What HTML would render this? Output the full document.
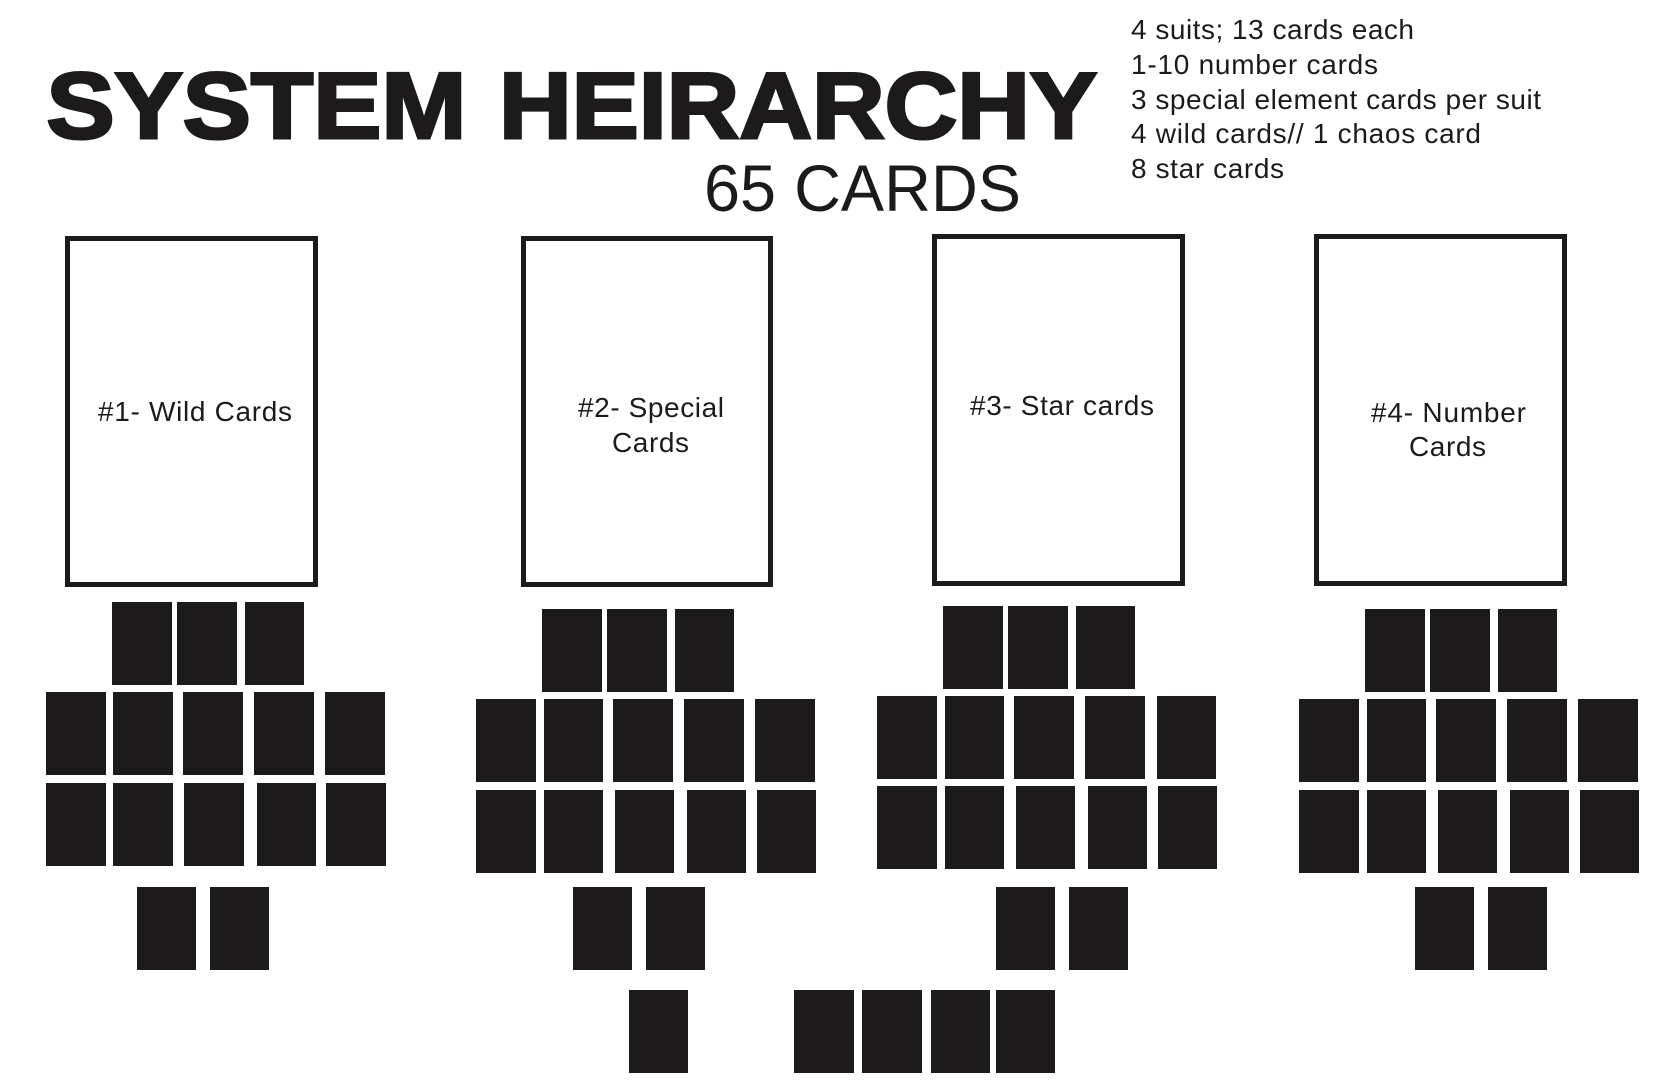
<!DOCTYPE html>
<html lang="en">
<head>
<meta charset="utf-8">
<title>System Heirarchy - 65 Cards</title>
<style>
  html, body { margin: 0; padding: 0; background: #ffffff; }
  svg { display: block; }
  text { font-family: "Liberation Sans", Arial, sans-serif; fill: #1c1a1b; }
  .card { fill: #1c1a1b; }
  .frame { fill: none; stroke: #1c1a1b; stroke-width: 5; }
  .body-text { font-size: 28px; }
  .label { font-size: 28px; }
  .title-word { font-size: 94px; font-weight: 700; stroke: #1c1a1b; stroke-width: 3; }
</style>
</head>
<body>
<svg width="1678" height="1088" viewBox="0 0 1678 1088" xmlns="http://www.w3.org/2000/svg">
  <rect x="0" y="0" width="1678" height="1088" fill="#ffffff"/>

  <g>
    <text class="title-word" x="46.5" y="138" textLength="420" lengthAdjust="spacingAndGlyphs">SYSTEM</text>
    <text class="title-word" x="499" y="138" textLength="598" lengthAdjust="spacingAndGlyphs">HEIRARCHY</text>
  </g>
  <text x="704" y="211" font-size="66" textLength="317" lengthAdjust="spacingAndGlyphs">65 CARDS</text>

  <g>
    <text class="body-text" x="1131" y="39" textLength="283" lengthAdjust="spacing">4 suits; 13 cards each</text>
    <text class="body-text" x="1131" y="74" textLength="247" lengthAdjust="spacing">1-10 number cards</text>
    <text class="body-text" x="1131" y="109" textLength="410" lengthAdjust="spacing">3 special element cards per suit</text>
    <text class="body-text" x="1131" y="143" textLength="350" lengthAdjust="spacing">4 wild cards// 1 chaos card</text>
    <text class="body-text" x="1131" y="178" textLength="153" lengthAdjust="spacing">8 star cards</text>
  </g>

  <g>
    <rect class="frame" x="67.5" y="238.5" width="248" height="346"/>
    <text class="label" x="98" y="421" textLength="194" lengthAdjust="spacing">#1- Wild Cards</text>
    <g>
      <rect class="card" x="112" y="602" width="60" height="83"/>
      <rect class="card" x="177" y="602" width="60" height="83"/>
      <rect class="card" x="245" y="602" width="59" height="83"/>
      <rect class="card" x="46" y="692" width="60" height="83"/>
      <rect class="card" x="113" y="692" width="60" height="83"/>
      <rect class="card" x="183" y="692" width="60" height="83"/>
      <rect class="card" x="254" y="692" width="60" height="83"/>
      <rect class="card" x="325" y="692" width="60" height="83"/>
      <rect class="card" x="46" y="783" width="60" height="83"/>
      <rect class="card" x="113" y="783" width="60" height="83"/>
      <rect class="card" x="184" y="783" width="60" height="83"/>
      <rect class="card" x="257" y="783" width="59" height="83"/>
      <rect class="card" x="326" y="783" width="60" height="83"/>
      <rect class="card" x="137" y="887" width="59" height="83"/>
      <rect class="card" x="210" y="887" width="59" height="83"/>
    </g>
  </g>

  <g>
    <rect class="frame" x="523.5" y="238.5" width="247" height="346"/>
    <text class="label" x="578" y="417" textLength="146" lengthAdjust="spacing">#2- Special</text>
    <text class="label" x="612" y="452" textLength="77" lengthAdjust="spacing">Cards</text>
    <g>
      <rect class="card" x="542" y="609" width="60" height="83"/>
      <rect class="card" x="607" y="609" width="60" height="83"/>
      <rect class="card" x="675" y="609" width="59" height="83"/>
      <rect class="card" x="476" y="699" width="60" height="83"/>
      <rect class="card" x="544" y="699" width="59" height="83"/>
      <rect class="card" x="613" y="699" width="60" height="83"/>
      <rect class="card" x="684" y="699" width="60" height="83"/>
      <rect class="card" x="755" y="699" width="60" height="83"/>
      <rect class="card" x="476" y="790" width="60" height="83"/>
      <rect class="card" x="544" y="790" width="59" height="83"/>
      <rect class="card" x="615" y="790" width="59" height="83"/>
      <rect class="card" x="687" y="790" width="59" height="83"/>
      <rect class="card" x="757" y="790" width="59" height="83"/>
      <rect class="card" x="573" y="887" width="59" height="83"/>
      <rect class="card" x="646" y="887" width="59" height="83"/>
    </g>
  </g>

  <g>
    <rect class="frame" x="934.5" y="236.5" width="248" height="347"/>
    <text class="label" x="970" y="415" textLength="184" lengthAdjust="spacing">#3- Star cards</text>
    <g>
      <rect class="card" x="943" y="606" width="60" height="83"/>
      <rect class="card" x="1008" y="606" width="60" height="83"/>
      <rect class="card" x="1076" y="606" width="59" height="83"/>
      <rect class="card" x="877" y="696" width="60" height="83"/>
      <rect class="card" x="945" y="696" width="59" height="83"/>
      <rect class="card" x="1014" y="696" width="60" height="83"/>
      <rect class="card" x="1085" y="696" width="60" height="83"/>
      <rect class="card" x="1157" y="696" width="59" height="83"/>
      <rect class="card" x="877" y="786" width="60" height="83"/>
      <rect class="card" x="945" y="786" width="59" height="83"/>
      <rect class="card" x="1016" y="786" width="59" height="83"/>
      <rect class="card" x="1088" y="786" width="59" height="83"/>
      <rect class="card" x="1158" y="786" width="59" height="83"/>
      <rect class="card" x="996" y="887" width="59" height="83"/>
      <rect class="card" x="1069" y="887" width="59" height="83"/>
    </g>
  </g>

  <g>
    <rect class="frame" x="1316.5" y="236.5" width="248" height="347"/>
    <text class="label" x="1371" y="422" textLength="155" lengthAdjust="spacing">#4- Number</text>
    <text class="label" x="1409" y="456" textLength="77" lengthAdjust="spacing">Cards</text>
    <g>
      <rect class="card" x="1365" y="609" width="60" height="83"/>
      <rect class="card" x="1430" y="609" width="60" height="83"/>
      <rect class="card" x="1498" y="609" width="59" height="83"/>
      <rect class="card" x="1299" y="699" width="60" height="83"/>
      <rect class="card" x="1367" y="699" width="59" height="83"/>
      <rect class="card" x="1436" y="699" width="60" height="83"/>
      <rect class="card" x="1507" y="699" width="60" height="83"/>
      <rect class="card" x="1578" y="699" width="60" height="83"/>
      <rect class="card" x="1299" y="790" width="60" height="83"/>
      <rect class="card" x="1367" y="790" width="59" height="83"/>
      <rect class="card" x="1438" y="790" width="59" height="83"/>
      <rect class="card" x="1510" y="790" width="59" height="83"/>
      <rect class="card" x="1580" y="790" width="59" height="83"/>
      <rect class="card" x="1415" y="887" width="59" height="83"/>
      <rect class="card" x="1488" y="887" width="59" height="83"/>
    </g>
  </g>

  <g>
    <rect class="card" x="629" y="990" width="59" height="83"/>
    <rect class="card" x="794" y="990" width="60" height="83"/>
    <rect class="card" x="862" y="990" width="60" height="83"/>
    <rect class="card" x="931" y="990" width="59" height="83"/>
    <rect class="card" x="996" y="990" width="59" height="83"/>
  </g>
</svg>
</body>
</html>
